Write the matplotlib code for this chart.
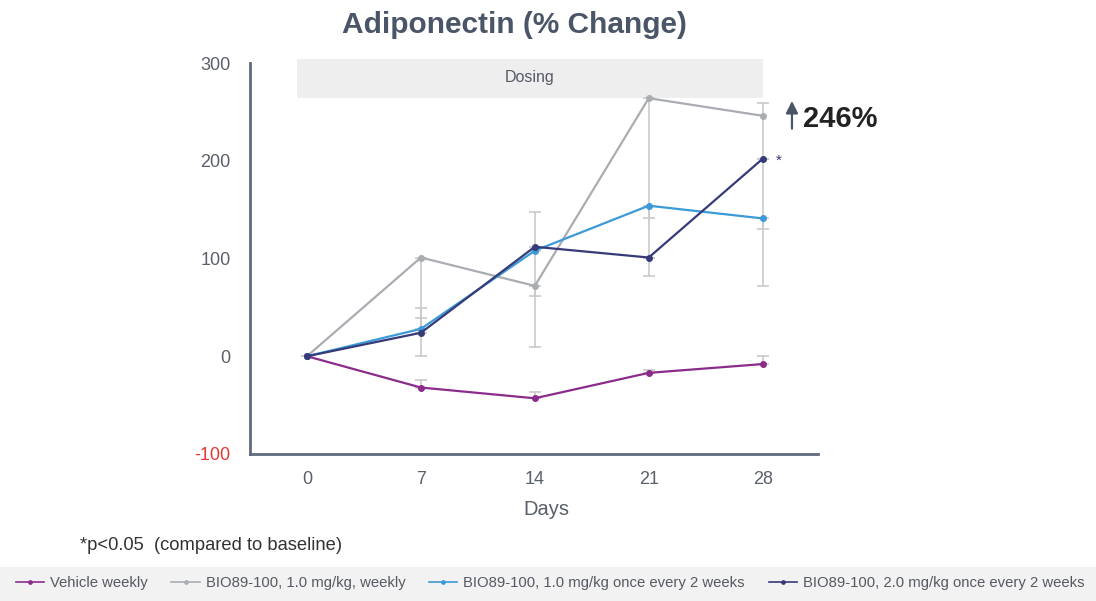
import matplotlib
matplotlib.use("Agg")
import matplotlib.pyplot as plt
from matplotlib.patches import Rectangle

plt.rcParams["font.family"] = ["Liberation Sans", "DejaVu Sans"]

days = [0, 7, 14, 21, 28]
series_names = ["Vehicle weekly", "BIO89-100, 1.0 mg/kg, weekly",
                "BIO89-100, 1.0 mg/kg once every 2 weeks",
                "BIO89-100, 2.0 mg/kg once every 2 weeks"]
vehicle = [0, -32, -43, -17, -8]
bio_1_weekly = [0, 101, 72, 264, 246]
bio_1_q2w = [0, 28, 108, 154, 141]
bio_2_q2w = [0, 24, 112, 101, 202]

# error bars (lower, upper)
vehicle_err = [[0, 0, 0, 0, 0], [0, 8, 6, 3, 8]]
bio_1_weekly_err = [[0, 101, 63, 182, 174], [0, 0, 0, 0, 13]]
bio_1_q2w_err = [[0, 0, 0, 13, 11], [0, 21, 40, 0, 0]]
bio_2_q2w_err = [[0, 0, 50, 0, 0], [0, 15, 0, 0, 0]]

yticks = [-100, 0, 100, 200, 300]
colors = ["#8b2c8c", "#a9adb2", "#3b9ad8", "#363a78"]
label_color = "#5a606a"
spine_color = "#5f6a7a"

fig = plt.figure(figsize=(10.96, 6.01), dpi=100)
ax = fig.add_axes([250/1096, 1-454/601, (818-250)/1096, (454-63)/601])
ax.set_xlim(-3.5, 31.4)
ax.set_ylim(-100, 300)

# dosing band
ax.add_patch(Rectangle((-0.6, 264), 28.6, 40, facecolor="#eeeeee", edgecolor="none",
                       clip_on=False, zorder=0))
ax.text(13.7, 285, "Dosing", ha="center", va="center", fontsize=11.5, color="#555a66")

all_vals = [vehicle, bio_1_weekly, bio_1_q2w, bio_2_q2w]
all_errs = [vehicle_err, bio_1_weekly_err, bio_1_q2w_err, bio_2_q2w_err]
for vals, err in zip(all_vals, all_errs):
    ax.errorbar(days, vals, yerr=err, fmt="none", ecolor="#c9c9c9", elinewidth=1.2,
                capsize=4, capthick=1.2, zorder=1)
for vals, c, name in zip(all_vals, colors, series_names):
    ax.plot(days, vals, color=c, lw=1.6, marker="o", ms=4, label=name, zorder=3)

ax.text(28.8, 200, "*", fontsize=11, color="#363a78", ha="left", va="center")
ax.annotate("", xy=(29.8, 264), xytext=(29.8, 230),
            arrowprops=dict(arrowstyle="-|>", color="#4a5568", lw=1.6, mutation_scale=18),
            annotation_clip=False)
ax.text(30.5, 243, "246%", fontsize=21, fontweight="bold", color="#222222",
        ha="left", va="center", clip_on=False)

for s in ["top", "right"]:
    ax.spines[s].set_visible(False)
for s in ["left", "bottom"]:
    ax.spines[s].set_color(spine_color)
    ax.spines[s].set_linewidth(2)
ax.set_xticks(days)
ax.set_xticklabels([str(d) for d in days])
ax.set_yticks(yticks)
ax.set_yticklabels([str(t) for t in yticks])
ax.tick_params(length=0, labelsize=13, labelcolor=label_color)
ax.tick_params(axis="x", pad=12)
ax.tick_params(axis="y", pad=14)
for lbl in ax.get_yticklabels():
    if lbl.get_text() == "-100":
        lbl.set_color("#e53935")
ax.set_xlabel("Days", fontsize=14.5, color=label_color, labelpad=7)
ax.xaxis.set_label_coords(0.521, -0.118)

fig.text(514/1096, 1-33/601, "Adiponectin (% Change)", ha="center", va="baseline",
         fontsize=21.5, fontweight="bold", color="#4a5568")
fig.text(80/1096, 1-546/601, "*p<0.05  (compared to baseline)", ha="left", va="center",
         fontsize=13.2, color="#333333")

fig.patches.append(Rectangle((0, 0), 1, 34/601, transform=fig.transFigure,
                             facecolor="#f2f2f3", edgecolor="none", zorder=0))
handles, labels = ax.get_legend_handles_labels()
leg = fig.legend(handles, labels, loc="center", bbox_to_anchor=(550/1096, 1-583/601),
                 ncol=4, frameon=False, fontsize=10.7, handlelength=1.9, columnspacing=1.6,
                 handletextpad=0.4, markerscale=0.6, labelcolor="#555a62")
for h in leg.legend_handles:
    h.set_linewidth(1.2)

fig.savefig("out.png", dpi=100)
